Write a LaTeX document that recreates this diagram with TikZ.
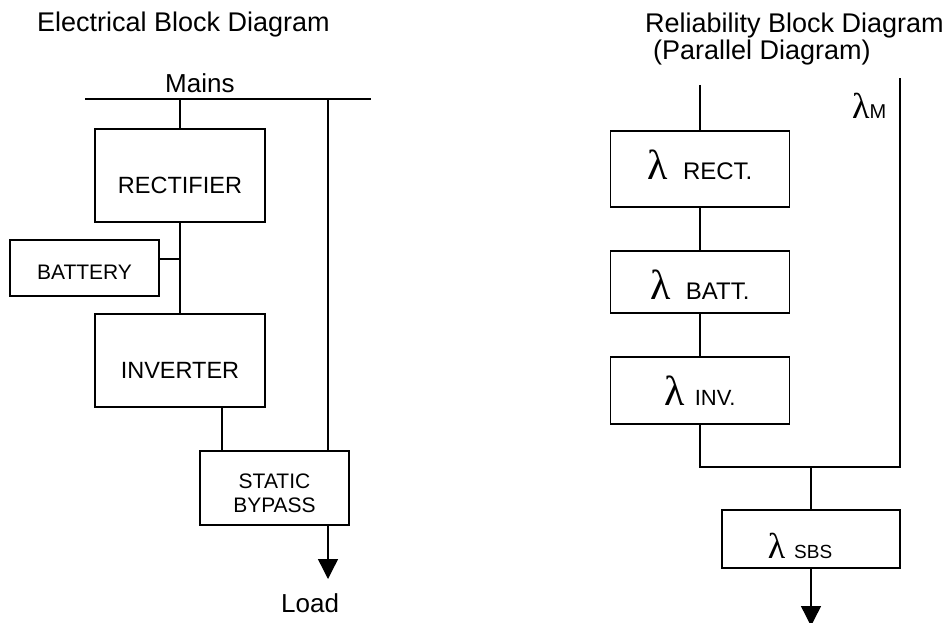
\documentclass[tikz,border=0pt]{standalone}
\usepackage{fontspec}
\setmainfont{Liberation Sans}
\newfontfamily\greekfont{Liberation Serif}
\usetikzlibrary{arrows.meta}

\newcommand{\lam}[1][42]{{\greekfont\fontsize{#1}{#1}\selectfont λ}}

\tikzset{
  wire/.style={line width=1.4pt},
  feed/.style={wire,-{Triangle[length=20pt,width=20pt]}},
  box/.style={draw,wire,inner sep=0pt,font=\fontsize{23.5}{27}\selectfont},
  lift/.style={text height=#1,text depth=0pt},
  heading/.style={anchor=base west,inner sep=0pt,font=\fontsize{26}{30}\selectfont},
}

\begin{document}
\begin{tikzpicture}[x=1pt,y=-1pt]
                \useasboundingbox (0,0) rectangle (942,623);

                % electrical block diagram
                \node[heading,font=\fontsize{27}{30}\selectfont] (etitle) at (37,32) {Electrical Block Diagram};
                \node[heading] (mains) at (165,93) {Mains};
                \coordinate (busL) at (85,99);
                \coordinate (busR) at (371,99);
                \coordinate (tap) at (328,99);
                \coordinate (load) at (328,579);

                \node[box,minimum width=170pt,minimum height=93pt,lift=35pt] (rect) at (180,175.5) {RECTIFIER};
                \node[box,minimum width=149pt,minimum height=56pt,lift=22pt,font=\fontsize{21}{24}\selectfont] (batt) at (84.5,268) {BATTERY};
                \node[box,minimum width=170pt,minimum height=93pt,lift=35pt] (inv) at (180,360.5) {INVERTER};
                \node[box,minimum width=149pt,minimum height=74pt,align=center,font=\fontsize{21}{24}\selectfont] (sbs) at (274.5,488) {\rule{0pt}{25pt}STATIC\\BYPASS};
                \node[heading] (loadtxt) at (281,612) {Load};

                \draw[wire] (busL) -- (busR);
                \draw[wire] (rect.north |- busL) -- (rect.north);
                \draw[wire] (rect.south) -- (inv.north);
                \draw[wire] ([yshift=9pt]batt.east) -- ([yshift=9pt]batt.east -| rect.south);
                \draw[wire] ([xshift=42pt]inv.south) -- ([xshift=42pt]inv.south |- sbs.north);
                \draw[wire] (tap) -- (tap |- sbs.north);
                \draw[feed] (load |- sbs.south) -- (load);

                % reliability block diagram
                \node[heading,font=\fontsize{27}{30}\selectfont] (rtitle) at (645,33) {Reliability Block Diagram};
                \node[heading,font=\fontsize{27}{30}\selectfont] (rsub) at (653,60) {(Parallel Diagram)};
                \coordinate (rtop) at (700,85);
                \coordinate (mtop) at (900,78);
                \coordinate (join) at (900,467);
                \coordinate (rout) at (811,626);

                \node[box,minimum width=179pt,minimum height=76pt,lift=20pt,font=\fontsize{24}{27}\selectfont] (rrect) at (700,169) {\lam\hspace{15pt}RECT.};
                \node[box,minimum width=179pt,minimum height=62pt,lift=34pt,font=\fontsize{24}{27}\selectfont] (rbatt) at (700,282) {\lam\hspace{15pt}BATT.};
                \node[box,minimum width=179pt,minimum height=67pt,lift=29pt,font=\fontsize{22}{26}\selectfont] (rinv) at (700,390.5) {\lam\hspace{10pt}INV.};
                \node[box,minimum width=178pt,minimum height=58pt,lift=38pt,font=\fontsize{19}{21}\selectfont] (rsbs) at (811,539) {\lam[36]\hspace{9pt}SBS\hspace*{22pt}};
                \node[anchor=base west,inner sep=0pt] (mlbl) at (852,119) {\lam[36]{\fontsize{20}{22}\selectfont M}};

                \draw[wire] (rtop) -- (rrect.north);
                \draw[wire] (rrect.south) -- (rbatt.north);
                \draw[wire] (rbatt.south) -- (rinv.north);
                \draw[wire] (rinv.south) -- (rinv.south |- join) -- (join) -- (mtop);
                \draw[wire] (rsbs.north |- join) -- (rsbs.north);
                \draw[feed] (rsbs.south) -- (rout);
\end{tikzpicture}
\end{document}
